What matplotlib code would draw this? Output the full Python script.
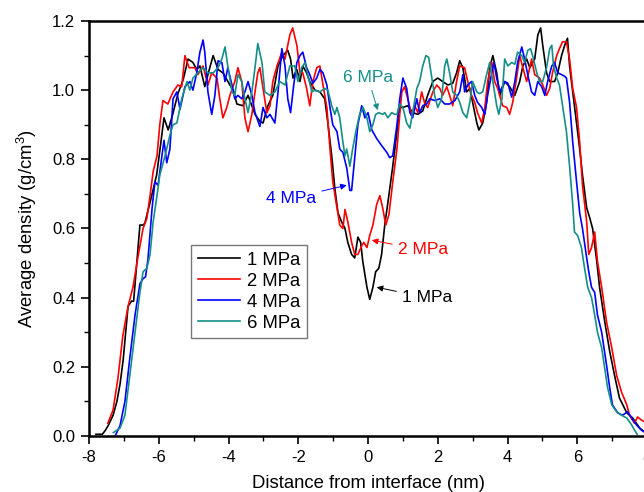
import matplotlib
matplotlib.use("Agg")
import matplotlib.pyplot as plt
from matplotlib.ticker import MultipleLocator

plt.rcParams['font.family'] = ['Liberation Sans', 'DejaVu Sans']
plt.rcParams['mathtext.default'] = 'regular'

labels = ['1 MPa', '2 MPa', '4 MPa', '6 MPa']
colors = ['#000000', '#ff0000', '#0000ff', '#158e8a']

x_1 = [-7.80, -7.62, -7.54, -7.45, -7.31, -7.20, -7.11, -7.02, -6.88, -6.78, -6.72, -6.63, -6.54, -6.45, -6.40, -6.25,
       -6.06, -5.95, -5.85, -5.73, -5.60, -5.45, -5.30, -5.16, -5.02, -4.91, -4.82, -4.68, -4.55, -4.44, -4.30, -4.16,
       -3.96, -3.86, -3.76, -3.59, -3.44, -3.24, -3.10, -3.01, -2.87, -2.73, -2.58, -2.44, -2.30, -2.22, -2.15, -2.04,
       -1.95, -1.87, -1.76, -1.67, -1.52, -1.38, -1.24, -1.15, -1.04, -0.95, -0.86, -0.76, -0.66, -0.58, -0.47, -0.38,
       -0.29, -0.21, -0.15, -0.03, 0.05, 0.14, 0.22, 0.31, 0.39, 0.48, 0.57, 0.71, 0.83, 0.91, 1.00, 1.14, 1.28, 1.43,
       1.57, 1.71, 1.86, 2.00, 2.14, 2.29, 2.43, 2.54, 2.63, 2.72, 2.83, 2.92, 3.00, 3.12, 3.18, 3.29, 3.40, 3.49, 3.58,
       3.69, 3.78, 3.92, 4.06, 4.21, 4.35, 4.44, 4.55, 4.64, 4.78, 4.87, 4.95, 5.01, 5.12, 5.21, 5.35, 5.44, 5.55, 5.64,
       5.72, 5.78, 5.87, 5.98, 6.07, 6.15, 6.27, 6.36, 6.44, 6.56, 6.64, 6.79, 6.93, 7.07, 7.21, 7.42, 7.59, 7.79, 7.95]
y_1 = [0.005, 0.005, 0.015, 0.03, 0.06, 0.10, 0.15, 0.22, 0.375, 0.39, 0.39, 0.50, 0.61, 0.61, 0.615, 0.675,
       0.755, 0.84, 0.92, 0.885, 0.93, 0.99, 1.03, 1.09, 1.08, 1.06, 1.07, 1.01, 1.06, 1.10, 1.06, 1.05,
       1.015, 1.00, 0.96, 0.955, 0.985, 0.93, 0.91, 0.905, 0.955, 0.985, 1.07, 1.10, 1.115, 1.09, 1.035, 1.06,
       1.025, 1.07, 1.05, 1.025, 1.00, 0.995, 0.975, 0.905, 0.81, 0.715, 0.645, 0.62, 0.60, 0.56, 0.525, 0.515,
       0.575, 0.56, 0.505, 0.43, 0.395, 0.43, 0.475, 0.485, 0.525, 0.61, 0.675, 0.78, 0.88, 0.95, 0.95, 0.955, 0.935, 0.93,
       0.94, 0.985, 1.025, 1.035, 1.025, 1.015, 1.02, 1.05, 1.085, 1.065, 0.995, 1.005, 0.965, 0.905, 0.885, 0.905, 0.965, 1.065, 1.10,
       1.05, 0.985, 1.025, 1.01, 0.985, 1.025, 1.07, 1.09, 1.065, 1.09, 1.16, 1.18, 1.13, 1.05, 1.025, 1.025, 1.05, 1.10, 1.13,
       1.15, 1.07, 0.995, 0.905, 0.83, 0.755, 0.66, 0.63, 0.60, 0.505, 0.43, 0.33, 0.245, 0.175, 0.11, 0.067, 0.052, 0.023, 0.01]

x_2 = [-7.46, -7.31, -7.17, -7.03, -6.88, -6.74, -6.60, -6.45, -6.34, -6.25, -6.16, -6.05, -5.97, -5.88, -5.74, -5.59,
       -5.45, -5.34, -5.25, -5.13, -4.96, -4.88, -4.73, -4.59, -4.48, -4.33, -4.25, -4.16, -4.05, -3.96, -3.82, -3.73,
       -3.62, -3.53, -3.44, -3.33, -3.24, -3.16, -3.10, -3.01, -2.90, -2.81, -2.73, -2.61, -2.47, -2.38, -2.24, -2.16,
       -2.04, -1.95, -1.87, -1.76, -1.67, -1.58, -1.47, -1.38, -1.29, -1.18, -1.09, -1.01, -0.89, -0.81, -0.72, -0.66,
       -0.58, -0.47, -0.38, -0.29, -0.18, -0.12, -0.03, 0.05, 0.14, 0.25, 0.34, 0.42, 0.51, 0.60, 0.71, 0.83, 0.91, 0.97,
       1.05, 1.14, 1.25, 1.34, 1.43, 1.54, 1.63, 1.71, 1.86, 1.97, 2.06, 2.14, 2.26, 2.34, 2.43, 2.54, 2.63, 2.77, 2.86,
       2.97, 3.06, 3.14, 3.26, 3.35, 3.43, 3.55, 3.63, 3.72, 3.86, 3.98, 4.06, 4.15, 4.26, 4.35, 4.44, 4.55, 4.69, 4.78,
       4.92, 5.01, 5.12, 5.21, 5.29, 5.41, 5.49, 5.58, 5.69, 5.78, 5.87, 5.98, 6.07, 6.15, 6.27, 6.33, 6.41, 6.50, 6.58,
       6.70, 6.84, 6.99, 7.13, 7.27, 7.42, 7.50, 7.64, 7.73, 7.84, 7.95]
y_2 = [0.037, 0.075, 0.167, 0.29, 0.375, 0.43, 0.515, 0.60, 0.63, 0.695, 0.765, 0.81, 0.90, 0.97, 0.96, 0.995,
       1.015, 1.01, 1.10, 1.065, 1.065, 1.045, 1.07, 1.015, 1.05, 1.035, 0.975, 0.92, 0.95, 0.985, 1.025, 1.065,
       1.025, 0.92, 0.88, 0.93, 0.995, 1.05, 1.065, 1.005, 0.935, 0.955, 1.025, 1.07, 1.11, 1.09, 1.16, 1.18,
       1.13, 1.05, 1.05, 1.005, 0.955, 1.025, 1.065, 1.07, 1.015, 0.95, 0.83, 0.735, 0.66, 0.61, 0.60, 0.655,
       0.62, 0.56, 0.525, 0.525, 0.55, 0.56, 0.545, 0.58, 0.61, 0.67, 0.695, 0.66, 0.61, 0.64, 0.735, 0.83, 0.93, 0.995,
       1.01, 0.975, 0.93, 0.955, 0.935, 0.995, 0.96, 0.95, 0.995, 1.015, 1.005, 0.985, 1.01, 0.985, 0.955, 1.025, 1.07, 1.065, 1.025,
       0.985, 0.965, 0.935, 0.905, 0.95, 1.025, 1.08, 1.025, 1.005, 0.955, 0.95, 0.93, 0.965, 1.035, 1.10, 1.065, 1.025, 1.09, 1.045,
       1.035, 1.015, 0.985, 1.005, 1.05, 1.10, 1.12, 1.14, 1.14, 1.09, 1.005, 0.95, 0.85, 0.725, 0.62, 0.525, 0.545, 0.59, 0.505,
       0.43, 0.33, 0.255, 0.175, 0.127, 0.09, 0.06, 0.037, 0.055, 0.046, 0.04]

x_4 = [-7.25, -7.11, -6.97, -6.83, -6.68, -6.54, -6.45, -6.38, -6.31, -6.19, -6.11, -6.02, -5.91, -5.85, -5.77, -5.68,
       -5.59, -5.48, -5.39, -5.25, -5.11, -5.02, -4.91, -4.82, -4.73, -4.68, -4.59, -4.48, -4.39, -4.30, -4.19, -4.10,
       -4.02, -3.90, -3.82, -3.73, -3.62, -3.53, -3.44, -3.33, -3.24, -3.10, -3.01, -2.90, -2.81, -2.67, -2.58, -2.47,
       -2.38, -2.30, -2.22, -2.13, -2.04, -1.95, -1.87, -1.76, -1.67, -1.58, -1.47, -1.38, -1.29, -1.18, -1.09, -1.01,
       -0.89, -0.81, -0.72, -0.61, -0.52, -0.47, -0.38, -0.29, -0.18, -0.09, 0.00, 0.11, 0.25, 0.39, 0.54, 0.62, 0.71,
       0.83, 0.91, 1.00, 1.11, 1.20, 1.28, 1.40, 1.48, 1.57, 1.68, 1.77, 1.91, 2.06, 2.20, 2.34, 2.49, 2.63, 2.72, 2.77,
       2.86, 2.97, 3.06, 3.14, 3.26, 3.35, 3.43, 3.55, 3.61, 3.69, 3.78, 3.92, 4.01, 4.12, 4.21, 4.29, 4.41, 4.49, 4.58,
       4.69, 4.78, 4.87, 4.98, 5.07, 5.15, 5.27, 5.35, 5.44, 5.55, 5.64, 5.69, 5.78, 5.87, 5.98, 6.07, 6.15, 6.27, 6.33,
       6.41, 6.50, 6.58, 6.70, 6.84, 6.93, 7.01, 7.16, 7.30, 7.44, 7.56, 7.70, 7.84, 7.95]
y_4 = [0.0, 0.03, 0.10, 0.225, 0.35, 0.44, 0.455, 0.46, 0.51, 0.66, 0.735, 0.725, 0.81, 0.855, 0.79, 0.83,
       0.975, 0.995, 0.945, 1.01, 1.025, 1.0, 1.05, 1.11, 1.145, 1.11, 0.995, 0.93, 0.985, 1.085, 1.08, 1.025,
       1.065, 1.015, 0.975, 0.985, 0.975, 0.995, 1.025, 0.985, 0.935, 0.895, 0.95, 0.92, 0.93, 0.905, 0.995, 1.12,
       1.07, 0.975, 0.935, 1.015, 1.08, 1.10, 1.11, 1.065, 1.045, 1.02, 1.035, 1.06, 1.05, 1.015, 0.95, 0.90,
       0.88, 0.83, 0.82, 0.775, 0.71, 0.71, 0.805, 0.90, 0.955, 0.92, 0.935, 0.885, 0.86, 0.84, 0.82, 0.805, 0.81,
       0.90, 0.975, 1.035, 1.005, 0.935, 0.92, 0.975, 0.935, 0.955, 0.96, 0.975, 0.97, 0.975, 0.96, 0.96, 0.97, 0.995, 1.045, 0.995,
       1.015, 1.025, 0.985, 0.965, 0.95, 0.93, 0.985, 1.05, 1.08, 1.035, 0.995, 1.025, 1.02, 0.98, 1.025, 1.08, 1.125, 1.09, 1.045,
       0.995, 0.985, 1.025, 1.01, 0.985, 1.025, 1.07, 1.08, 1.05, 1.045, 1.04, 1.035, 0.965, 0.85, 0.735, 0.645, 0.60, 0.515, 0.475,
       0.43, 0.415, 0.35, 0.30, 0.205, 0.14, 0.09, 0.067, 0.06, 0.07, 0.052, 0.032, 0.017, 0.01]

x_6 = [-7.30, -7.11, -6.97, -6.83, -6.68, -6.54, -6.45, -6.34, -6.25, -6.16, -6.05, -5.97, -5.82, -5.68, -5.59, -5.48,
       -5.34, -5.19, -5.11, -5.02, -4.88, -4.73, -4.59, -4.44, -4.30, -4.19, -4.10, -4.02, -3.90, -3.82, -3.73, -3.62,
       -3.53, -3.44, -3.33, -3.24, -3.16, -3.04, -2.96, -2.81, -2.67, -2.53, -2.38, -2.24, -2.10, -2.01, -1.90, -1.81,
       -1.73, -1.61, -1.52, -1.38, -1.24, -1.15, -1.04, -0.95, -0.89, -0.81, -0.72, -0.66, -0.61, -0.52, -0.44, -0.35,
       -0.24, -0.14, -0.03, 0.05, 0.14, 0.22, 0.31, 0.42, 0.48, 0.57, 0.68, 0.77, 0.83, 0.91, 1.00, 1.11, 1.20, 1.28,
       1.40, 1.48, 1.57, 1.66, 1.74, 1.83, 1.91, 2.00, 2.11, 2.20, 2.26, 2.34, 2.43, 2.54, 2.63, 2.72, 2.83, 2.92, 3.00,
       3.12, 3.20, 3.29, 3.40, 3.49, 3.58, 3.69, 3.75, 3.84, 3.92, 4.01, 4.12, 4.21, 4.29, 4.41, 4.49, 4.58, 4.66, 4.72,
       4.84, 4.92, 5.01, 5.12, 5.21, 5.27, 5.32, 5.41, 5.49, 5.58, 5.69, 5.78, 5.87, 5.92, 6.01, 6.12, 6.21, 6.30, 6.41,
       6.50, 6.58, 6.70, 6.79, 6.87, 6.99, 7.13, 7.27, 7.42, 7.56, 7.64, 7.72]
y_6 = [0.01, 0.023, 0.06, 0.175, 0.30, 0.415, 0.475, 0.485, 0.525, 0.62, 0.695, 0.755, 0.81, 0.87, 0.90, 0.905,
       0.975, 1.025, 1.0, 1.035, 1.05, 1.065, 1.05, 1.05, 1.065, 1.09, 1.125, 1.07, 0.995, 0.985, 1.045, 1.025,
       0.975, 0.935, 0.995, 1.065, 1.135, 1.08, 0.995, 0.985, 0.995, 1.025, 1.015, 1.07, 1.07, 1.025, 1.065, 1.08,
       1.045, 0.995, 1.0, 0.995, 1.005, 1.0, 0.955, 0.93, 0.95, 0.92, 0.85, 0.81, 0.83, 0.78, 0.83, 0.88,
       0.93, 0.95, 0.92, 0.88, 0.90, 0.93, 0.935, 0.93, 0.935, 0.92, 0.935, 0.93, 0.93, 0.96, 0.95, 0.905, 0.89, 0.935,
       1.005, 1.025, 1.07, 1.10, 1.095, 1.035, 0.985, 0.95, 0.975, 1.07, 1.09, 1.05, 0.995, 0.985, 0.965, 0.935, 0.92, 0.965, 1.025,
       0.995, 0.99, 0.995, 1.045, 1.08, 1.025, 0.955, 0.93, 0.975, 1.09, 1.07, 1.08, 1.075, 1.11, 1.10, 1.08, 1.115, 1.12, 1.10,
       1.05, 1.025, 1.025, 1.065, 1.12, 1.13, 1.07, 1.035, 1.015, 0.955, 0.88, 0.78, 0.67, 0.59, 0.58, 0.545, 0.485, 0.43, 0.40,
       0.35, 0.30, 0.255, 0.195, 0.14, 0.09, 0.07, 0.06, 0.052, 0.032, 0.017, 0.005]

series = [(x_1, y_1), (x_2, y_2), (x_4, y_4), (x_6, y_6)]
for (xs, ys), lab in zip(series, labels):
    assert len(xs) == len(ys), (lab, len(xs), len(ys))

fig = plt.figure(figsize=(6.44, 4.92), dpi=100)
ax = fig.add_axes([89/644, 56/492, 558/644, 415/492])

for (xs, ys), c, lab in zip(series, colors, labels):
    ax.plot(xs, ys, color=c, lw=1.2, label=lab)

ax.set_xlim(-8, 8)
ax.set_ylim(0, 1.2)
ax.xaxis.set_major_locator(MultipleLocator(2))
ax.xaxis.set_minor_locator(MultipleLocator(1))
ax.yaxis.set_major_locator(MultipleLocator(0.2))
ax.yaxis.set_minor_locator(MultipleLocator(0.1))
ax.yaxis.set_major_formatter(plt.FuncFormatter(lambda v, p: f"{v:.1f}"))
ax.xaxis.set_major_formatter(plt.FuncFormatter(lambda v, p: f"{v:.0f}"))
ax.tick_params(which='major', direction='out', length=6, width=1.2, labelsize=12, top=False, right=False, pad=4)
ax.tick_params(which='minor', direction='out', length=3.5, width=1.0, top=False, right=False)
for s in ax.spines.values():
    s.set_linewidth(1.8)

ax.set_xlabel('Distance from interface (nm)', fontsize=13.3, labelpad=7)
ax.set_ylabel('Average density (g/cm$^3$)', fontsize=13.3, labelpad=9)

leg = ax.legend(loc='upper left', bbox_to_anchor=(0.183, 0.460), borderaxespad=0, fontsize=13.3,
                frameon=True, fancybox=False, edgecolor='#555555', handlelength=2.3, labelspacing=0.22,
                borderpad=0.35, handletextpad=0.4)
leg.get_frame().set_linewidth(1.0)

ann = [
    ('6 MPa', colors[3], (0.28, 0.942), (-0.72, 1.037), 'left'),
    ('4 MPa', colors[2], (-0.61, 0.725), (-1.48, 0.688), 'right'),
    ('2 MPa', colors[1], (0.11, 0.566), (0.85, 0.538), 'left'),
    ('1 MPa', colors[0], (0.25, 0.43), (0.97, 0.40), 'left'),
]
for txt, c, xy, xyt, ha in ann:
    ax.annotate(txt, xy=xy, xytext=xyt, color=c, fontsize=12.5, ha=ha, va='center',
                arrowprops=dict(arrowstyle='-|>', color=c, lw=0.7, mutation_scale=9,
                                shrinkA=2, shrinkB=0))

fig.savefig('out.png', dpi=100)
